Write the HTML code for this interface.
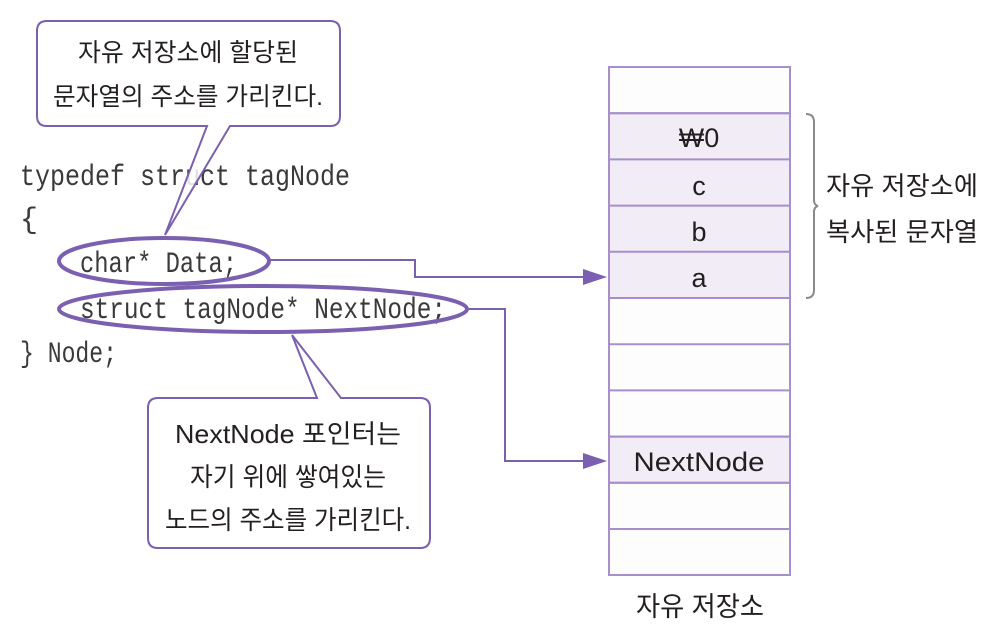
<!DOCTYPE html>
<html><head><meta charset="utf-8"><style>
html,body{margin:0;padding:0;background:#fff;}
svg{display:block;}
.k{font-family:"Liberation Sans","Noto Sans CJK KR",sans-serif;fill:#231f20;}
.m{font-family:"Liberation Mono","DejaVu Sans Mono",monospace;fill:#3a3a3a;font-size:30px;}
</style></head><body>
<svg width="1000" height="632" viewBox="0 0 1000 632" xmlns="http://www.w3.org/2000/svg">
<!-- column -->
<g stroke="#a68fcb" stroke-width="2">
<rect x="609" y="67" width="181" height="508" fill="#fdfdfd"/>
<rect x="609" y="113.2" width="181" height="184.8" fill="#f1ecf5"/>
<rect x="609" y="436.6" width="181" height="46.2" fill="#f1ecf5"/>
<line x1="609" y1="113.2" x2="790" y2="113.2"/>
<line x1="609" y1="159.4" x2="790" y2="159.4"/>
<line x1="609" y1="205.6" x2="790" y2="205.6"/>
<line x1="609" y1="251.8" x2="790" y2="251.8"/>
<line x1="609" y1="298" x2="790" y2="298"/>
<line x1="609" y1="344.2" x2="790" y2="344.2"/>
<line x1="609" y1="390.4" x2="790" y2="390.4"/>
<line x1="609" y1="436.6" x2="790" y2="436.6"/>
<line x1="609" y1="482.8" x2="790" y2="482.8"/>
<line x1="609" y1="529" x2="790" y2="529"/>
</g>
<g class="k" font-size="27" text-anchor="middle">
<text x="699" y="147">₩0</text>
<text x="699" y="195">c</text>
<text x="699" y="241">b</text>
<text x="699" y="287">a</text>
<text x="699" y="471" textLength="131" lengthAdjust="spacingAndGlyphs">NextNode</text>
<text x="700" y="616" textLength="128" lengthAdjust="spacingAndGlyphs">자유 저장소</text>
</g>
<!-- brace -->
<path d="M806,114 Q814,114 814,122 L814,200 Q814,205 818,206 Q814,207 814,212 L814,290 Q814,298 806,298" fill="none" stroke="#8a8a8a" stroke-width="2"/>
<g class="k" font-size="26">
<text x="826" y="195" textLength="152" lengthAdjust="spacingAndGlyphs">자유 저장소에</text>
<text x="826" y="241" textLength="152" lengthAdjust="spacingAndGlyphs">복사된 문자열</text>
</g>
<!-- code -->
<g class="m">
<text x="20" y="185" textLength="330" lengthAdjust="spacingAndGlyphs">typedef struct tagNode</text>
<text x="20" y="228">{</text>
<text x="80" y="272" textLength="157" lengthAdjust="spacingAndGlyphs">char* Data;</text>
<text x="80" y="318" textLength="366" lengthAdjust="spacingAndGlyphs">struct tagNode* NextNode;</text>
<text x="20" y="362" textLength="97" lengthAdjust="spacingAndGlyphs">} Node;</text>
</g>
<!-- ellipses -->
<g fill="none" stroke="#7b5fb0" stroke-width="4">
<ellipse cx="164" cy="261" rx="105" ry="23"/>
<ellipse cx="263" cy="309" rx="204" ry="23"/>
</g>
<!-- connectors -->
<g fill="none" stroke="#7b5fb0" stroke-width="2">
<polyline points="270,260 415,260 415,277 590,277"/>
<polyline points="467,309 505,309 505,461 590,461"/>
</g>
<path d="M583,269 L607,277 L583,285 Z" fill="#7b5fb0"/>
<path d="M583,453 L607,461 L583,469 Z" fill="#7b5fb0"/>
<!-- callout 1 -->
<path d="M47,21 H330 Q340,21 340,31 V116 Q340,126 330,126 H230 L165,235 L207,126 H47 Q37,126 37,116 V31 Q37,21 47,21 Z" fill="#fff" fill-opacity="0.85" stroke="#7b5fb0" stroke-width="2"/>
<g class="k" font-size="25" text-anchor="middle">
<text x="188" y="61" textLength="220" lengthAdjust="spacingAndGlyphs">자유 저장소에 할당된</text>
<text x="188" y="105" textLength="270" lengthAdjust="spacingAndGlyphs">문자열의 주소를 가리킨다.</text>
</g>
<!-- callout 2 -->
<path d="M158,398 H317 L292,335 L341,398 H420 Q430,398 430,408 V538 Q430,548 420,548 H158 Q148,548 148,538 V408 Q148,398 158,398 Z" fill="#fff" stroke="#7b5fb0" stroke-width="2"/>
<g class="k" font-size="26" text-anchor="middle">
<text x="288" y="443" textLength="226" lengthAdjust="spacingAndGlyphs">NextNode 포인터는</text>
<text x="288" y="486" textLength="196" lengthAdjust="spacingAndGlyphs">자기 위에 쌓여있는</text>
<text x="288" y="529" textLength="246" lengthAdjust="spacingAndGlyphs">노드의 주소를 가리킨다.</text>
</g>
</svg>
</body></html>
